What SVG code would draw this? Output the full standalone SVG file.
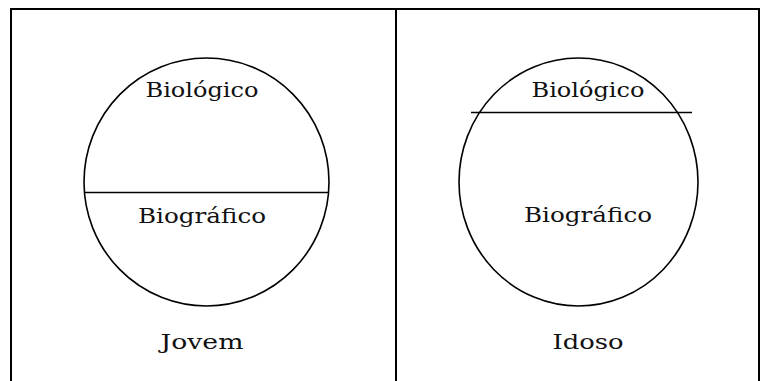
<svg xmlns="http://www.w3.org/2000/svg" width="770" height="381" viewBox="0 0 770 381">
<style>
.frame{stroke:#000;stroke-width:2;fill:none}
.shape{stroke:#000;stroke-width:1.6;fill:none}
text{font-family:"DejaVu Serif","Liberation Serif",serif;font-size:21px;fill:#111;text-anchor:middle}
</style>
<rect width="770" height="381" fill="#fff"/>
<g id="table">
<path class="frame" d="M11 381 V9 H759 V381 M396 9 V381"/>
</g>
<g id="jovem">
<ellipse class="shape" cx="206.5" cy="182" rx="122.5" ry="124"/>
<line class="shape" x1="85" y1="192.5" x2="328" y2="192.5"/>
<text x="202" y="97" textLength="113" lengthAdjust="spacingAndGlyphs">Biológico</text>
<text x="202" y="223" textLength="128" lengthAdjust="spacingAndGlyphs">Biográfico</text>
<text x="202" y="349" textLength="83" lengthAdjust="spacingAndGlyphs">Jovem</text>
</g>
<g id="idoso">
<ellipse class="shape" cx="578.5" cy="182" rx="119.5" ry="124"/>
<line class="shape" x1="471" y1="112.5" x2="692" y2="112.5"/>
<text x="588" y="97" textLength="113" lengthAdjust="spacingAndGlyphs">Biológico</text>
<text x="588" y="222" textLength="128" lengthAdjust="spacingAndGlyphs">Biográfico</text>
<text x="588" y="349" textLength="71" lengthAdjust="spacingAndGlyphs">Idoso</text>
</g>
</svg>
